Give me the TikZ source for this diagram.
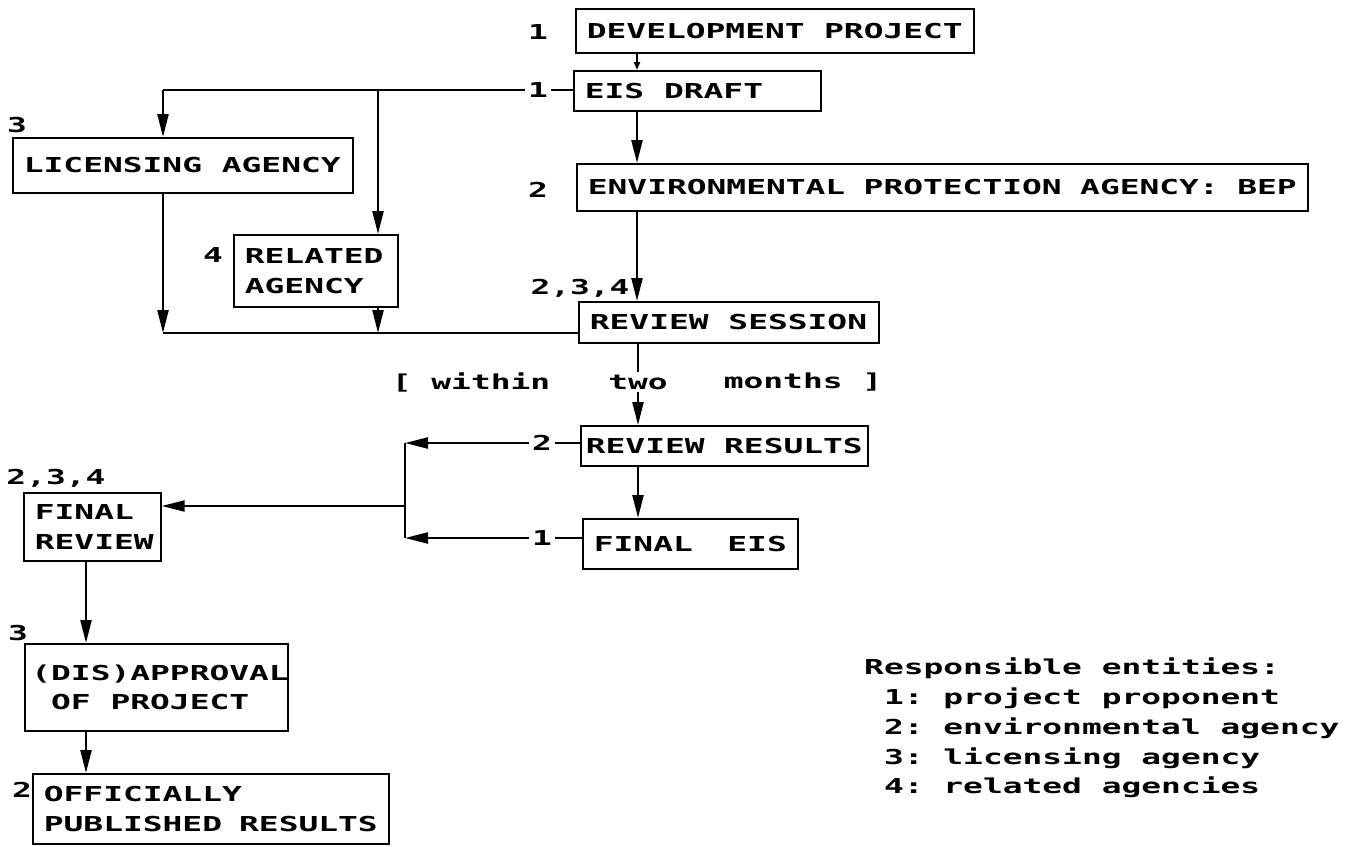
\documentclass[tikz,border=0pt]{standalone}
\usepackage{fontspec}
\newfontfamily\dotfont{DejaVu Sans Mono}[FakeStretch=1.6]
\usetikzlibrary{arrows.meta}
\pgfdeclarelayer{bg}
\pgfsetlayers{bg,main}
\tikzset{
  box/.style={draw, line width=1pt, anchor=north west, align=left, inner xsep=0.22cm, inner ysep=0pt,
    execute at begin node={\spaceskip=0pt\xspaceskip=0pt\hyphenpenalty=10000}},
  num/.style={inner sep=1.5pt},
  link/.style={line width=1.3pt},
  flow/.style={link, -{Triangle[length=0.46cm,width=0.22cm]}},
}
\begin{document}
\begin{tikzpicture}[x=0.02cm, y=-0.02cm, font=\dotfont\bfseries\frenchspacing\fontsize{11.7pt}{17pt}\selectfont]
        \useasboundingbox (0,0) rectangle (1351,846);
        \node (dev) [box, text width=7.52cm, minimum height=0.88cm] at (575,8) {DEVELOPMENT PROJECT};
        \node (eis) [box, text width=4.5cm, minimum height=0.8cm] at (573,70) {EIS DRAFT};
        \node (env) [box, text width=14.18cm, minimum height=0.94cm] at (576,163) {ENVIRONMENTAL PROTECTION AGENCY: BEP};
        \node (lic) [box, text width=6.36cm, minimum height=1.1cm] at (12,137) {LICENSING AGENCY};
        \node (rel) [box, text width=2.84cm, minimum height=1.44cm] at (233,234) {RELATED\\AGENCY};
        \node (rs) [box, text width=5.56cm, minimum height=0.82cm] at (578,301) {REVIEW SESSION};
        \node (rr) [box, inner xsep=0.1cm, text width=5.54cm, minimum height=0.8cm] at (580,425) {REVIEW RESULTS};
        \node (fe) [box, text width=3.86cm, minimum height=1cm] at (582,518) {FINAL\ \ EIS};
        \node (fr) [box, text width=2.3cm, minimum height=1.36cm] at (23,492) {FINAL\\REVIEW};
        \node (app) [box, inner xsep=0.13cm, text width=5cm, minimum height=1.74cm] at (24,643) {(DIS)APPROVAL\\\mbox{\ }OF PROJECT};
        \node (opr) [box, text width=6.68cm, minimum height=1.4cm] at (32,773) {OFFICIALLY\\PUBLISHED RESULTS};
        % who is responsible
        \node (n1a) [num] at (538,32) {1};
        \node (n1b) [num] at (538,90) {1};
        \node (n2a) [num] at (538,190) {2};
        \node (n3a) [num] at (17,125) {3};
        \node (n4) [num] at (213,255) {4};
        \node (n234a) [num] at (580,288) {2,3,4};
        \node (n2b) [num] at (542,443) {2};
        \node (n1c) [num] at (542,538) {1};
        \node (n234b) [num] at (56,478) {2,3,4};
        \node (n3b) [num] at (18,633) {3};
        \node (n2c) [num] at (22,790) {2};
        \node (within) at (471,382) {[ within};
        \node (two) [num] at (638,382) {two};
        \node (months) at (803,382) {months ]};
        \node (legend) [anchor=west, align=left] at (858,728) {Responsible entities:\\
                \mbox{\ }1: project proponent\\
                \mbox{\ }2: environmental agency\\
                \mbox{\ }3: licensing agency\\
                \mbox{\ }4: related agencies};
        \coordinate (sp) at (637,0);
        \coordinate (jl) at (163,90);
        \coordinate (jr) at (378,90);
        \coordinate (bl) at (163,333);
        \coordinate (jv) at (405,506);
        \coordinate (ls) at (86,0);
        \begin{pgfonlayer}{bg}
                \draw [flow, -{Triangle[length=0.16cm,width=0.12cm]}] (sp |- dev.south) -- (sp |- eis.north);
                \draw [flow] (sp |- eis.south) -- (sp |- env.north);
                \draw [flow] (sp |- env.south) -- (sp |- rs.north);
                \draw [link] (n1b) -- (n1b -| eis.west);
                \draw [link] (n1b) -- (jl);
                \draw [flow] (jl) -- (jl |- lic.north);
                \draw [flow] (jr) -- (jr |- rel.north);
                \draw [flow] (jl |- lic.south) -- (bl);
                \draw [flow] (jr |- rel.south) -- (jr |- bl);
                \draw [link] (bl) -- (bl -| rs.west);
                \draw [link] (two.north) -- (two.north |- rs.south);
                \draw [flow] (two.south) -- (two.south |- rr.north);
                \draw [flow] (two.south |- rr.south) -- (two.south |- fe.north);
                \draw [link] (n2b) -- (n2b -| rr.west);
                \draw [link] (n1c) -- (n1c -| fe.west);
                \draw [flow] (n2b) -- (n2b -| jv);
                \draw [flow] (n1c) -- (n1c -| jv);
                \draw [link] (n2b -| jv) -- (n1c -| jv);
                \draw [flow] (jv) -- (jv -| fr.east);
                \draw [flow] (ls |- fr.south) -- (ls |- app.north);
                \draw [flow] (ls |- app.south) -- (ls |- opr.north);
        \end{pgfonlayer}
\end{tikzpicture}
\end{document}
